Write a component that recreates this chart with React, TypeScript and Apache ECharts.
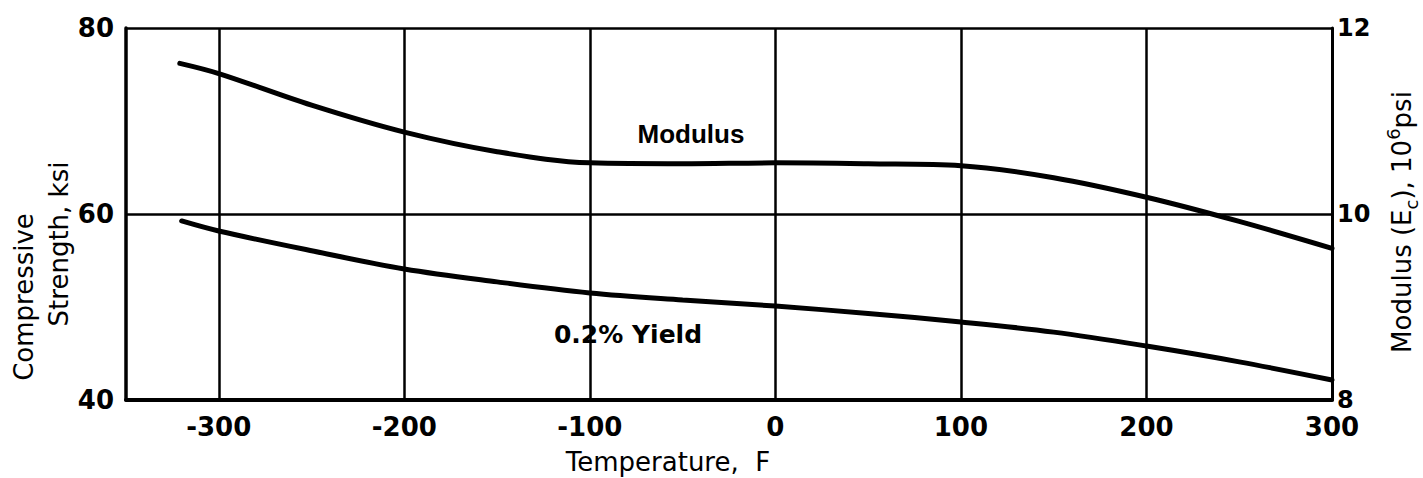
import React, { useEffect, useRef } from "react";
import * as echarts from "echarts";

// Temperature (F) vs Modulus (10^6 psi), right axis
const modulusTemps = [-321, -300, -250, -200, -150, -100, -50, 0, 50, 100, 150, 200, 250, 300];
const modulusValues = [11.62, 11.51, 11.17, 10.88, 10.67, 10.55, 10.54, 10.55, 10.54, 10.52, 10.39, 10.18, 9.92, 9.63];

// Temperature (F) vs 0.2% Yield compressive strength (ksi), left axis
const yieldTemps = [-320, -300, -250, -200, -150, -100, -50, 0, 50, 100, 150, 200, 250, 300];
const yieldValues = [59.25, 58.17, 56.05, 54.09, 52.7, 51.51, 50.75, 50.1, 49.3, 48.39, 47.3, 45.8, 44.1, 42.15];

// vertical grid lines / labelled temperature ticks
const gridTemps = [-300, -200, -100, 0, 100, 200, 300];

const DIGIT_FONT = "DejaVu Sans";
const WORD_FONT = "DejaVu Sans";

export default function App() {
  const ref = useRef<HTMLDivElement>(null);

  useEffect(() => {
    if (!ref.current) return;
    const chart = echarts.init(ref.current, undefined, { renderer: "svg" });

    const option: any = {
      animation: false,
      backgroundColor: "#ffffff",
      grid: { left: 126, right: 91, top: 28, bottom: 78, containLabel: false },
      xAxis: {
        type: "value",
        min: -350,
        max: 300,
        interval: 50,
        axisLine: { show: true, onZero: false, lineStyle: { color: "#000", width: 4 } },
        axisTick: { show: false },
        splitLine: { show: false },
        axisLabel: {
          color: "#000",
          fontFamily: DIGIT_FONT,
          fontWeight: "bold",
          fontSize: 26,
          margin: 14,
          showMinLabel: true,
          showMaxLabel: true,
          formatter: (v: number) => (gridTemps.indexOf(v) >= 0 ? String(v) : ""),
        },
      },
      yAxis: [
        {
          type: "value",
          min: 40,
          max: 80,
          interval: 20,
          position: "left",
          axisLine: { show: true, onZero: false, lineStyle: { color: "#000", width: 3.5 } },
          axisTick: { show: false },
          splitLine: { show: true, lineStyle: { color: "#000", width: 2.5 } },
          axisLabel: {
            color: "#000",
            fontFamily: DIGIT_FONT,
            fontWeight: "bold",
            fontSize: 26,
            margin: 12,
          },
        },
        {
          type: "value",
          min: 8,
          max: 12,
          interval: 2,
          position: "right",
          axisLine: { show: true, onZero: false, lineStyle: { color: "#000", width: 3 } },
          axisTick: { show: false },
          splitLine: { show: false },
          axisLabel: {
            color: "#000",
            fontFamily: DIGIT_FONT,
            fontWeight: "bold",
            fontSize: 24,
            lineHeight: 22,
            margin: 5,
          },
        },
      ],
      series: [
        {
          name: "0.2% Yield",
          type: "line",
          yAxisIndex: 0,
          data: yieldTemps.map((t, i) => [t, yieldValues[i]]),
          smooth: 0.35,
          showSymbol: false,
          lineStyle: { color: "#000", width: 5, cap: "round" },
          z: 3,
          markLine: {
            silent: true,
            symbol: ["none", "none"],
            label: { show: false },
            lineStyle: { color: "#000", width: 2.5, type: "solid" },
            data: gridTemps.map((t) => ({ xAxis: t })),
            z: 1,
          },
        },
        {
          name: "Modulus",
          type: "line",
          yAxisIndex: 1,
          data: modulusTemps.map((t, i) => [t, modulusValues[i]]),
          smooth: 0.35,
          showSymbol: false,
          lineStyle: { color: "#000", width: 5, cap: "round" },
          z: 3,
        },
      ],
      graphic: [
        {
          type: "text",
          x: 691,
          y: 134,
          style: {
            text: "Modulus",
            fill: "#000",
            font: "bold 26px 'Liberation Sans', Arial, sans-serif",
            textAlign: "center",
            textVerticalAlign: "middle",
          },
        },
        {
          type: "text",
          x: 628,
          y: 334,
          style: {
            text: "0.2% Yield",
            fill: "#000",
            font: "bold 25px 'DejaVu Sans', sans-serif",
            textAlign: "center",
            textVerticalAlign: "middle",
          },
        },
        {
          type: "text",
          x: 668,
          y: 462,
          style: {
            text: "Temperature,  F",
            fill: "#000",
            font: `26px '${WORD_FONT}', sans-serif`,
            textAlign: "center",
            textVerticalAlign: "middle",
          },
        },
        {
          type: "text",
          x: 24,
          y: 297,
          rotation: Math.PI / 2,
          style: {
            text: "Compressive",
            fill: "#000",
            font: `26px '${WORD_FONT}', sans-serif`,
            textAlign: "center",
            textVerticalAlign: "middle",
          },
        },
        {
          type: "text",
          x: 59,
          y: 244,
          rotation: Math.PI / 2,
          style: {
            text: "Strength, ksi",
            fill: "#000",
            font: `26px '${WORD_FONT}', sans-serif`,
            textAlign: "center",
            textVerticalAlign: "middle",
          },
        },
        {
          type: "text",
          x: 1402,
          y: 222,
          rotation: Math.PI / 2,
          style: {
            text: "{a|Modulus (E}{b|c}{a|), 10}{c|6}{a|psi}",
            fill: "#000",
            textAlign: "center",
            textVerticalAlign: "middle",
            rich: {
              a: { fontFamily: WORD_FONT, fontSize: 26, lineHeight: 36, fill: "#000", verticalAlign: "middle" },
              b: { fontFamily: WORD_FONT, fontSize: 18, lineHeight: 36, fill: "#000", verticalAlign: "bottom" },
              c: { fontFamily: WORD_FONT, fontSize: 18, lineHeight: 36, fill: "#000", verticalAlign: "top" },
            },
          },
        },
      ],
    };

    chart.setOption(option);
    return () => chart.dispose();
  }, []);

  return (
    <div
      ref={ref}
      style={{ position: "fixed", left: 0, top: 0, width: 1423, height: 478, background: "#fff" }}
    />
  );
}
